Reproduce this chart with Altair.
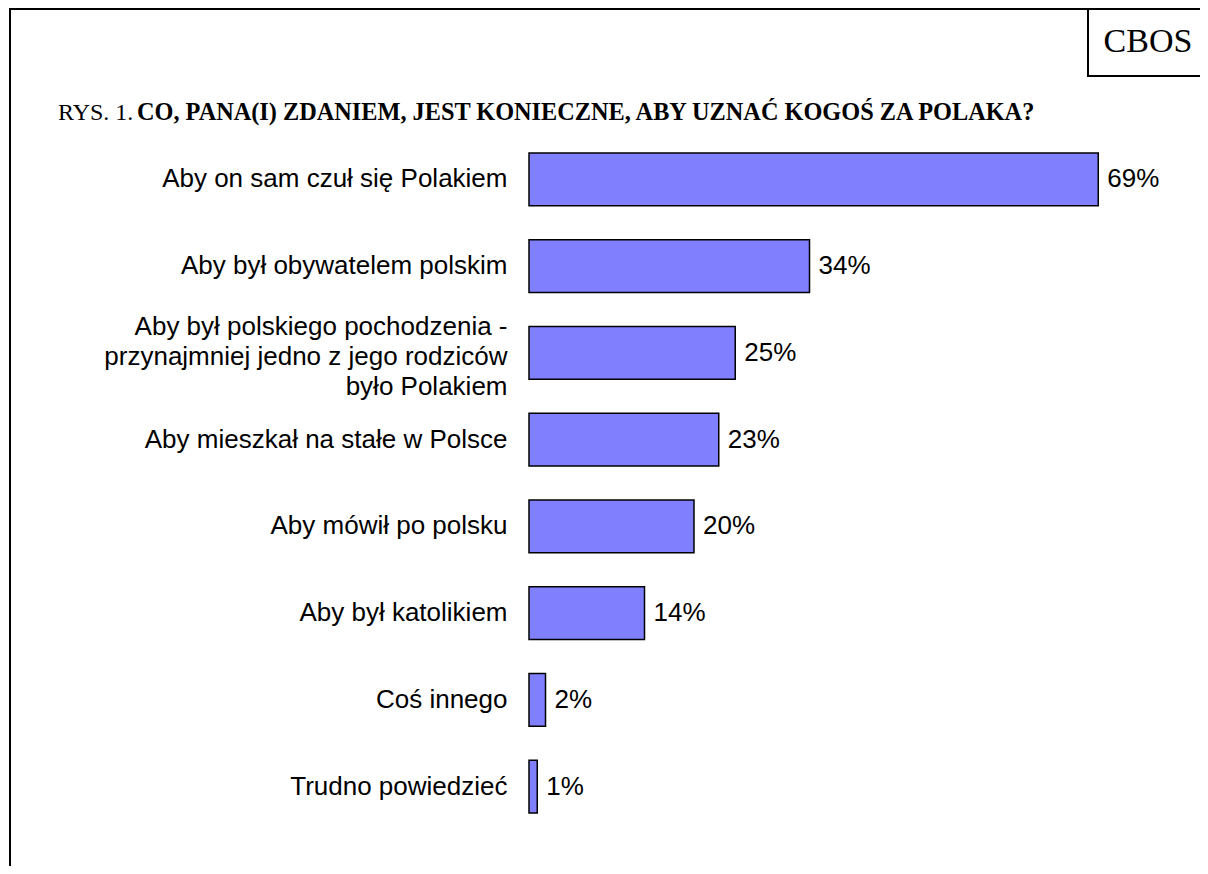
import altair as alt
import pandas as pd

categories = [
    "Aby on sam czuł się Polakiem",
    "Aby był obywatelem polskim",
    "Aby był polskiego pochodzenia -\nprzynajmniej jedno z jego rodziców\u00a0\nbyło Polakiem",
    "Aby mieszkał na stałe w Polsce",
    "Aby mówił po polsku",
    "Aby był katolikiem",
    "Coś innego",
    "Trudno powiedzieć",
]
values = [69, 34, 25, 23, 20, 14, 2, 1]
title_prefix = "RYS. 1. "
title_main = "CO, PANA(I) ZDANIEM, JEST KONIECZNE, ABY UZNAĆ KOGOŚ ZA POLAKA?"
badge = "CBOS"

df = pd.DataFrame({"cat": categories, "value": values})
one = pd.DataFrame({"a": [0]})

SANS = "Liberation Sans, Arial, sans-serif"
SERIF = "Liberation Serif, Times New Roman, serif"

y_enc = alt.Y(
    "cat:N",
    sort=None,
    scale=alt.Scale(paddingInner=0.39, paddingOuter=0.195),
    axis=alt.Axis(
        title=None, domain=False, ticks=False, grid=False,
        labelPadding=22, labelFont=SANS, labelFontSize=26,
        labelColor="black", labelLimit=700, labelLineHeight=30,
        labelExpr="split(datum.label, '\\n')",
        labelOffset={
            "condition": {"test": "indexof(datum.label, '\\n') >= 0", "value": -26},
            "value": 0,
        },
    ),
)
x_enc = alt.X("value:Q", scale=alt.Scale(domain=[0, 80]), axis=None)

bars = alt.Chart(df).mark_bar(
    color="#8080FF", stroke="black", strokeWidth=1.5
).encode(x=x_enc, y=y_enc)

labels = alt.Chart(df).transform_calculate(
    lbl="datum.value + '%'"
).mark_text(
    align="left", baseline="middle", dx=9, font=SANS, fontSize=26, color="black"
).encode(x=x_enc, y=y_enc, text="lbl:N")

def rule(x1, x2, y1, y2):
    return alt.Chart(one).mark_rule(color="black", strokeWidth=2).encode(
        x=alt.value(x1), x2=alt.value(x2), y=alt.value(y1), y2=alt.value(y2)
    )

frame_top = rule(-520, 680, -127, -127)
frame_left = rule(-519, -519, -128, 760)
box_left = rule(559, 559, -128, -60)
box_bottom = rule(558, 680, -60, -60)

cbos = alt.Chart(one).mark_text(
    font=SERIF, fontSize=34, align="center", baseline="middle", color="black"
).encode(x=alt.value(619), y=alt.value(-94), text=alt.value(badge))

t1 = alt.Chart(one).mark_text(
    font=SERIF, fontSize=24, align="left", baseline="alphabetic", color="black"
).encode(x=alt.value(-471), y=alt.value(-16), text=alt.value(title_prefix))

t2 = alt.Chart(one).mark_text(
    font=SERIF, fontSize=24.3, fontWeight="bold", align="left",
    baseline="alphabetic", color="black"
).encode(x=alt.value(-392), y=alt.value(-16), text=alt.value(title_main))

chart = alt.layer(
    bars, labels, frame_top, frame_left, box_left, box_bottom, cbos, t1, t2
).resolve_scale(y="shared").properties(
    width=660,
    height=694,
    padding={"left": 521, "top": 128, "right": 11, "bottom": 36},
    autosize=alt.AutoSizeParams(type="none"),
    background="white",
).configure_view(stroke=None)

chart.save("out.html", embed_options={"renderer": "svg", "actions": False})
